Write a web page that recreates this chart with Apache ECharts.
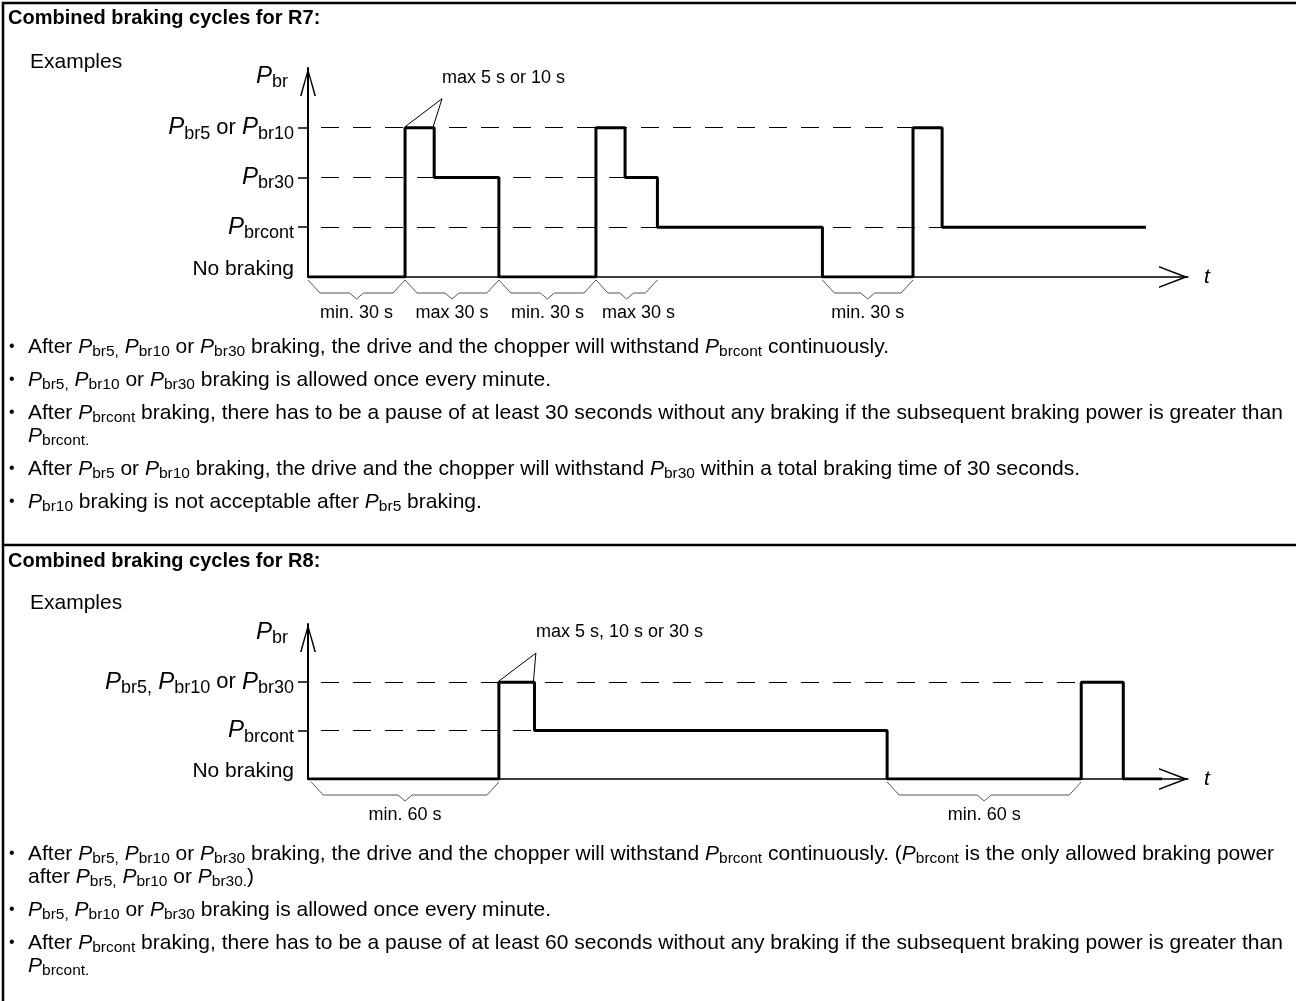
<!DOCTYPE html>
<html>
<head>
<meta charset="utf-8">
<script src="https://cdn.jsdelivr.net/npm/echarts@6/dist/echarts.min.js"></script>
<style>
html,body{margin:0;padding:0;background:#fff;}
#main{width:1296px;height:1001px;}
</style>
</head>
<body>
<div id="main"></div>
<script>
var FONT = '"Liberation Sans", Arial, Helvetica, sans-serif';

// ---- R7 ----
var title7 = 'Combined braking cycles for R7:';
var levels7 = ['No braking', 'P_brcont', 'P_br30', 'P_br5 or P_br10'];
// step starts [time, level]
var steps7 = [[0,0],[30,3],[39,2],[59,0],[89,3],[98,2],[108,1],[159,0],[187,3],[196,1],[259,1]];
// dashed reference lines [level, end time]
var dashes7 = [[3,187],[2,108],[1,196]];
var braces7 = [[0,30,'min. 30 s'],[30,59,'max 30 s'],[59,89,'min. 30 s'],[89,108,'max 30 s'],[159,187,'min. 30 s']];
var callout7 = [[30,39,3,'max 5 s or 10 s']];
var notes7 = [
    ['After P_br5, P_br10 or P_br30 braking, the drive and the chopper will withstand P_brcont continuously.'],
    ['P_br5, P_br10 or P_br30 braking is allowed once every minute.'],
    ['After P_brcont braking, there has to be a pause of at least 30 seconds without any braking if the subsequent braking power is greater than', 'P_brcont.'],
    ['After P_br5 or P_br10 braking, the drive and the chopper will withstand P_br30 within a total braking time of 30 seconds.'],
    ['P_br10 braking is not acceptable after P_br5 braking.']
];

// ---- R8 ----
var title8 = 'Combined braking cycles for R8:';
var levels8 = ['No braking', 'P_brcont', 'P_br5, P_br10 or P_br30'];
var steps8 = [[0,0],[59,2],[70,1],[179,0],[239,2],[252,0],[264,0]];
var dashes8 = [[2,239],[1,70]];
var braces8 = [[1,59,'min. 60 s'],[179,239,'min. 60 s']];
var callout8 = [[59,70,2,'max 5 s, 10 s or 30 s']];
var notes8 = [
    ['After P_br5, P_br10 or P_br30 braking, the drive and the chopper will withstand P_brcont continuously. (P_brcont is the only allowed braking power', 'after P_br5, P_br10 or P_br30.)'],
    ['P_br5, P_br10 or P_br30 braking is allowed once every minute.'],
    ['After P_brcont braking, there has to be a pause of at least 60 seconds without any braking if the subsequent braking power is greater than', 'P_brcont.']
];

// P_xxx -> italic P with subscript (trailing comma/period sits low too)
function rt(s) {
    return s.replace(/P_(\w+)([.,]?)/g, '{p|P}{s|$1$2}');
}

var noteRich = {
    p: {fontSize: 21, fontStyle: 'italic', fontFamily: FONT, lineHeight: 26, color: '#000', fill: '#000'},
    s: {fontSize: 15.5, fontFamily: FONT, lineHeight: 26, padding: [10, 0, 0, 0], color: '#000', fill: '#000'}
};
var axisRich = {
    p: {fontSize: 24, fontStyle: 'italic', fontFamily: FONT, lineHeight: 30, color: '#000'},
    s: {fontSize: 18, fontFamily: FONT, lineHeight: 30, padding: [12, 0, 0, 0], color: '#000'},
    nb: {fontSize: 21, fontFamily: FONT, lineHeight: 30, padding: [0, 0, 16, 0], color: '#000'}
};

var arrowUp = 'path://M8 0L16 28L14.4 28L8 4.5L1.6 28L0 28Z';
var arrowRight = 'path://M11 0L22 29L20.4 29L11 4.5L1.6 29L0 29Z';

function mkX(i) {
    return {
        type: 'value', gridIndex: i, min: 0, max: 272,
        axisLine: {show: true, onZero: false, symbol: ['none', arrowRight], symbolSize: [22, 29], symbolOffset: [0, -14.5],
            lineStyle: {color: '#000', width: 1.5}},
        axisTick: {show: false}, axisLabel: {show: false}, splitLine: {show: false},
        name: 't', nameLocation: 'end', nameGap: 16,
        nameTextStyle: {fontStyle: 'italic', fontSize: 21, fontFamily: FONT, color: '#000', align: 'left', verticalAlign: 'middle'}
    };
}

function mkY(i, max, labels) {
    var idx = labels.map(function (l, k) { return k; });
    return {
        type: 'value', gridIndex: i, min: 0, max: max,
        axisLine: {show: true, symbol: ['none', arrowUp], symbolSize: [16, 28], symbolOffset: [0, -14],
            lineStyle: {color: '#000', width: 2}},
        axisTick: {show: true, customValues: idx.slice(1), length: 10, lineStyle: {color: '#000', width: 1.5}},
        axisLabel: {
            show: true, customValues: idx, margin: 14,
            fontSize: 22, fontFamily: FONT, color: '#000', lineHeight: 30,
            formatter: function (v) {
                var k = Math.round(v);
                if (k === 0) return '{nb|' + labels[0] + '}';
                return rt(labels[k]);
            },
            rich: axisRich
        },
        splitLine: {show: false},
        name: '{p|P}{s|br}', nameLocation: 'end', nameGap: -8,
        nameTextStyle: {align: 'right', verticalAlign: 'middle', padding: [0, 20, 0, 0], rich: axisRich}
    };
}

function braceItem(list) {
    return function (params, api) {
        var d = list[params.dataIndex];
        var a = api.coord([d[0], 0]), b = api.coord([d[1], 0]);
        var y = a[1], m = (a[0] + b[0]) / 2;
        // narrow brace: label starts near the left end instead of centred
        var narrow = (b[0] - a[0]) < 75;
        return {
            type: 'group',
            children: [{
                type: 'polyline',
                shape: {points: [[a[0], y + 3], [a[0] + 12, y + 16], [m - 7, y + 16], [m, y + 22], [m + 7, y + 16], [b[0] - 12, y + 16], [b[0], y + 3]]},
                style: {stroke: '#555', lineWidth: 1, fill: null}
            }, {
                type: 'text',
                style: {text: d[2], x: narrow ? a[0] + 6 : m, y: y + 36, align: narrow ? 'left' : 'center', verticalAlign: 'middle',
                    fontSize: 18, fontFamily: FONT, fill: '#000'}
            }]
        };
    };
}

function calloutItem(list) {
    return function (params, api) {
        var d = list[params.dataIndex];
        var a = api.coord([d[0], d[2]]), b = api.coord([d[1], d[2]]);
        var ax = a[0] + 37, ay = a[1] - 29;
        return {
            type: 'group',
            children: [{
                type: 'line', shape: {x1: ax, y1: ay, x2: a[0], y2: a[1] - 1}, style: {stroke: '#000', lineWidth: 1}
            }, {
                type: 'line', shape: {x1: ax, y1: ay, x2: b[0] - 1, y2: b[1] - 1}, style: {stroke: '#000', lineWidth: 1}
            }, {
                type: 'text',
                style: {text: d[3], x: ax, y: ay - 21, align: 'left', verticalAlign: 'middle', fontSize: 18, fontFamily: FONT, fill: '#000'}
            }]
        };
    };
}

function stepSeries(i, data, dashes) {
    return {
        type: 'line', xAxisIndex: i, yAxisIndex: i, data: data, step: 'end',
        symbol: 'none', lineStyle: {color: '#000', width: 3}, z: 3,
        markLine: {
            silent: true, symbol: ['none', 'none'], label: {show: false}, animation: false,
            lineStyle: {color: '#000', width: 1, type: [18, 14], dashOffset: 19},
            emphasis: {disabled: true},
            data: dashes.map(function (d) { return [{coord: [0, d[0]]}, {coord: [d[1], d[0]]}]; })
        }
    };
}

// page frame and texts
var graphics = [
    {type: 'rect', shape: {x: 3, y: 3, width: 1310, height: 1010}, style: {stroke: '#000', lineWidth: 2.5, fill: null}, z: 100},
    {type: 'line', shape: {x1: 3, y1: 545, x2: 1300, y2: 545}, style: {stroke: '#000', lineWidth: 2.5}, z: 100}
];
function addText(txt, x, y, extra) {
    var st = {text: txt, x: x, y: y, verticalAlign: 'middle', fontSize: 21, fontFamily: FONT, fill: '#000', lineHeight: 26, rich: noteRich};
    for (var k in extra) st[k] = extra[k];
    graphics.push({type: 'text', style: st});
}
function addNotes(notes, y0) {
    var y = y0;
    notes.forEach(function (lines) {
        graphics.push({type: 'text', style: {text: '\u2022', x: 9, y: y, verticalAlign: 'middle', fontSize: 16, fontFamily: FONT, fill: '#000'}});
        lines.forEach(function (ln, j) {
            if (j > 0) y += 23;
            addText(rt(ln), 28, y);
        });
        y += 33;
    });
}
addText(title7, 8, 18, {fontWeight: 'bold', fontSize: 20});
addText('Examples', 30, 62, {});
addNotes(notes7, 347);
addText(title8, 8, 561, {fontWeight: 'bold', fontSize: 20});
addText('Examples', 30, 603, {});
addNotes(notes8, 854);

var chart = echarts.init(document.getElementById('main'));
chart.setOption({
    animation: false,
    grid: [
        {left: 308, top: 68, width: 880, height: 209},
        {left: 308, top: 624, width: 880, height: 155}
    ],
    xAxis: [mkX(0), mkX(1)],
    yAxis: [mkY(0, 4.2, levels7), mkY(1, 3.2, levels8)],
    series: [
        stepSeries(0, steps7, dashes7),
        {type: 'custom', xAxisIndex: 0, yAxisIndex: 0, data: braces7, renderItem: braceItem(braces7), silent: true},
        {type: 'custom', xAxisIndex: 0, yAxisIndex: 0, data: callout7, renderItem: calloutItem(callout7), silent: true},
        stepSeries(1, steps8, dashes8),
        {type: 'custom', xAxisIndex: 1, yAxisIndex: 1, data: braces8, renderItem: braceItem(braces8), silent: true},
        {type: 'custom', xAxisIndex: 1, yAxisIndex: 1, data: callout8, renderItem: calloutItem(callout8), silent: true}
    ],
    graphic: graphics
});
</script>
</body>
</html>
